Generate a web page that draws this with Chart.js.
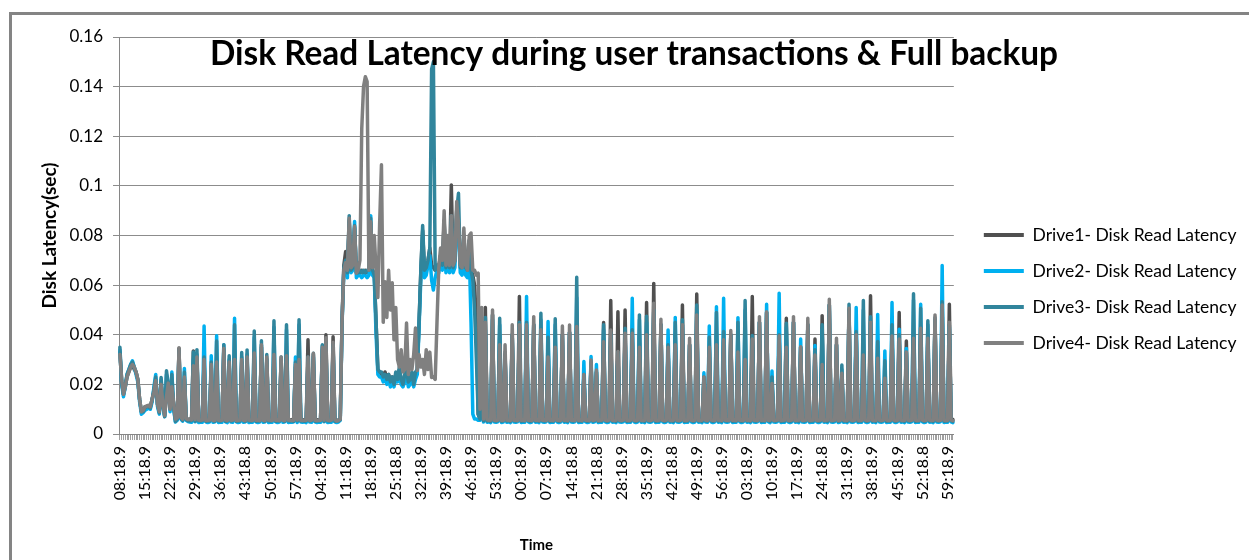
<!DOCTYPE html>
<html>
<head>
<meta charset="utf-8">
<title>Disk Read Latency</title>
<script src="https://cdn.jsdelivr.net/npm/chart.js@4.4.1/dist/chart.umd.min.js"></script>
<style>
  html, body { margin: 0; padding: 0; background: #fff; }
  #wrap { position: relative; width: 1249px; height: 560px; overflow: hidden; }
  #chart { position: absolute; left: 0; top: 0; }
  /* the grey frame of the original picture; its right and bottom edges are cut off */
  #frame { position: absolute; left: 9px; top: 12px; width: 1300px; height: 600px;
           border: 3px solid #848484; pointer-events: none; }
</style>
</head>
<body>
<div id="wrap">
  <canvas id="chart" width="1249" height="560"></canvas>
  <div id="frame"></div>
</div>
<script>
// ---------------------------------------------------------------------------
// Disk read latency of four drives, one sample every 30 s.
// ---------------------------------------------------------------------------

const TITLE = "Disk Read Latency during user transactions & Full backup";
const SERIES_NAMES = [
  "Drive1- Disk Read Latency",
  "Drive2- Disk Read Latency",
  "Drive3- Disk Read Latency",
  "Drive4- Disk Read Latency",
];
const COLORS = ["#505050", "#00b0f0", "#31859c", "#808080"];

// one label is printed every 14 samples (7 minutes)
const TICK_EVERY = 14;
const TICK_LABELS = [
  "08:18.9", "15:18.9", "22:18.9", "29:18.9", "36:18.9", "43:18.8", "50:18.9",
  "57:18.9", "04:18.9", "11:18.9", "18:18.9", "25:18.8", "32:18.9", "39:18.9",
  "46:18.9", "53:18.9", "00:18.9", "07:18.9", "14:18.8", "21:18.8", "28:18.9",
  "35:18.9", "42:18.8", "49:18.9", "56:18.9", "03:18.9", "10:18.9", "17:18.9",
  "24:18.8", "31:18.9", "38:18.9", "45:18.9", "52:18.8", "59:18.9",
];

// latency in seconds
const DRIVE1 = [
  .033,.021,.016,.019,.023,.025,.027,.028,.026,.025,
  .022,.014,.009,.0095,.011,.0112,.0115,.011,.014,.017,
  .022,.012,.009,.021,.012,.0075,.016,.020,.010,.019,
  .012,.006,.0066,.0345,.0068,.006,.022,.0062,.0058,.006,
  .0057,.0335,.0058,.030,.0057,.0056,.0058,.029,.0055,.0057,
  .0056,.027,.0058,.0055,.028,.0057,.0056,.0058,.034,.0055,
  .0057,.028,.0056,.0058,.029,.0055,.0057,.0056,.029,.0058,
  .0055,.030,.0057,.0056,.0058,.032,.0055,.0057,.0056,.035,
  .0058,.0055,.030,.0057,.0056,.0058,.031,.0055,.0057,.0056,
  .030,.0058,.0055,.031,.0057,.0056,.0058,.0055,.027,.0057,
  .029,.0056,.0058,.0055,.0057,.038,.0056,.0058,.032,.0055,
  .0057,.0056,.0058,.034,.0055,.040,.0057,.0056,.0058,.0392,
  .0058,.0055,.0057,.0062,.046,.068,.0735,.065,.086,.067,
  .068,.083,.065,.066,.065,.066,.065,.066,.065,.066,
  .085,.066,.065,.045,.026,.025,.024,.023,.025,.022,
  .024,.021,.023,.020,.024,.022,.026,.022,.020,.023,
  .026,.021,.022,.024,.020,.024,.026,.045,.066,.082,
  .066,.066,.070,.075,.068,.067,.066,.068,.067,.072,
  .068,.086,.068,.079,.068,.1004,.068,.070,.090,.085,
  .068,.067,.080,.068,.066,.078,.066,.064,.060,.045,
  .008,.006,.045,.0058,.051,.0057,.0056,.0058,.048,.0055,
  .0057,.0056,.040,.0058,.0055,.032,.0057,.0056,.0058,.040,
  .0055,.0057,.0056,.0554,.0058,.0055,.0057,.042,.0056,.0058,
  .0055,.044,.0057,.0056,.0058,.042,.0055,.0057,.0056,.035,
  .0058,.0055,.0057,.036,.0056,.0058,.0055,.040,.0057,.0056,
  .0058,.041,.0055,.0057,.0056,.045,.0058,.0055,.0057,.023,
  .0056,.0058,.0055,.028,.0057,.0056,.025,.0058,.0055,.0057,
  .0449,.0056,.0058,.0055,.0538,.0057,.0056,.0058,.0493,.0055,
  .0057,.0056,.050,.0058,.0055,.0057,.040,.0056,.0058,.0055,
  .040,.0057,.0056,.0058,.053,.0055,.0057,.0056,.0607,.0058,
  .0055,.0057,.044,.0056,.0058,.0055,.034,.0057,.0056,.0058,
  .040,.0055,.0057,.0056,.052,.0058,.0055,.0057,.036,.0056,
  .0058,.0055,.0564,.0057,.0056,.0058,.022,.0055,.0057,.035,
  .0056,.0058,.0055,.040,.0057,.0056,.0058,.038,.0055,.0057,
  .0056,.040,.0058,.0055,.0057,.034,.0056,.0058,.0055,.032,
  .0057,.0056,.0058,.0554,.0055,.0057,.0056,.045,.0058,.0055,
  .0057,.049,.0056,.0058,.021,.0055,.0057,.0056,.039,.0058,
  .0055,.0057,.0466,.0056,.0058,.0055,.045,.0057,.0056,.0058,
  .035,.0055,.0057,.0056,.044,.0058,.0055,.0057,.0383,.0056,
  .0058,.0055,.0477,.0057,.0056,.0058,.052,.0055,.0057,.0056,
  .036,.0058,.0055,.024,.0057,.0056,.0058,.050,.0055,.0057,
  .0056,.040,.0058,.0055,.0057,.032,.0056,.0058,.0055,.0557,
  .0057,.0056,.0058,.031,.0055,.0057,.0056,.023,.0058,.0055,
  .0057,.040,.0056,.0058,.0055,.049,.0057,.0056,.0058,.0375,
  .0055,.0057,.0056,.040,.0058,.0055,.0057,.043,.0056,.0058,
  .0055,.039,.0057,.0056,.0058,.046,.0055,.0057,.0056,.050,
  .0058,.0055,.0057,.0523,.0056,.0058,
];

const DRIVE2 = [
  .034,.020,.015,.019,.024,.026,.028,.0295,.027,.024,
  .021,.013,.008,.0086,.0095,.010,.0105,.010,.013,.019,
  .024,.011,.008,.022,.011,.007,.024,.020,.009,.025,
  .010,.0048,.0055,.033,.006,.0052,.0264,.0055,.005,.0048,
  .0047,.030,.0049,.032,.0046,.0048,.0047,.0435,.0049,.0046,
  .0048,.0315,.0047,.0049,.0396,.0046,.0048,.0047,.036,.0049,
  .0046,.030,.0048,.0047,.0466,.0049,.0046,.0048,.031,.0047,
  .0049,.032,.0046,.0048,.0047,.039,.0049,.0046,.0048,.036,
  .0047,.0049,.030,.0046,.0048,.0047,.043,.0049,.0046,.0048,
  .029,.0047,.0049,.042,.0046,.0048,.0047,.0049,.031,.0046,
  .044,.0048,.0047,.0049,.0046,.029,.0048,.0047,.031,.0049,
  .0046,.0048,.0047,.0355,.0049,.035,.0046,.0048,.0047,.035,
  .0049,.0046,.0048,.0055,.044,.066,.068,.063,.085,.065,
  .066,.0856,.063,.064,.064,.063,.064,.064,.063,.064,
  .088,.064,.063,.040,.024,.023,.023,.021,.023,.020,
  .022,.019,.021,.019,.022,.021,.024,.020,.019,.021,
  .024,.019,.020,.022,.019,.022,.024,.043,.063,.080,
  .063,.064,.068,.072,.062,.058,.063,.066,.065,.070,
  .066,.080,.065,.076,.065,.0856,.065,.067,.087,.083,
  .065,.064,.077,.064,.063,.074,.045,.008,.006,.006,
  .0055,.0055,.030,.0048,.042,.0047,.0049,.0046,.046,.0048,
  .0047,.0049,.044,.0046,.0048,.031,.0047,.0049,.0046,.040,
  .0048,.0047,.0049,.043,.0046,.0048,.0047,.0554,.0049,.0046,
  .0048,.044,.0047,.0049,.0046,.046,.0048,.0047,.0049,.0453,
  .0046,.0048,.0047,.044,.0049,.0046,.0048,.040,.0047,.0049,
  .0046,.041,.0048,.0047,.0049,.055,.0046,.0048,.0047,.0292,
  .0049,.0046,.0048,.0312,.0047,.0049,.028,.0046,.0048,.0047,
  .042,.0049,.0046,.0048,.040,.0047,.0049,.0046,.032,.0048,
  .0047,.0049,.040,.0046,.0048,.0047,.0547,.0049,.0046,.0048,
  .046,.0047,.0049,.0046,.045,.0048,.0047,.0049,.050,.0046,
  .0048,.0047,.044,.0049,.0046,.0048,.0419,.0047,.0049,.0046,
  .047,.0048,.0047,.0049,.044,.0046,.0048,.0047,.036,.0049,
  .0046,.0048,.050,.0047,.0049,.0046,.0247,.0048,.0047,.0435,
  .0049,.0046,.0048,.0513,.0047,.0049,.0046,.0547,.0048,.0047,
  .0049,.040,.0046,.0048,.0047,.0469,.0049,.0046,.0048,.050,
  .0047,.0049,.0046,.038,.0048,.0047,.0049,.045,.0046,.0048,
  .0047,.0523,.0049,.0046,.0254,.0048,.0047,.0049,.0567,.0046,
  .0048,.0047,.043,.0049,.0046,.0048,.045,.0047,.0049,.0046,
  .0383,.0048,.0047,.0049,.044,.0046,.0048,.0047,.0357,.0049,
  .0046,.0048,.042,.0047,.0049,.0046,.052,.0048,.0047,.0049,
  .036,.0046,.0048,.026,.0047,.0049,.0046,.050,.0048,.0047,
  .0049,.051,.0046,.0048,.0047,.050,.0049,.0046,.0048,.045,
  .0047,.0049,.0046,.0482,.0048,.0047,.0049,.0335,.0046,.0048,
  .0047,.053,.0049,.0046,.0048,.0422,.0047,.0049,.0046,.0345,
  .0048,.0047,.0049,.054,.0046,.0048,.0047,.0523,.0049,.0046,
  .0048,.044,.0047,.0049,.0046,.046,.0048,.0047,.0049,.0679,
  .0046,.0048,.0047,.043,.0049,.0046,
];

const DRIVE3 = [
  .035,.021,.016,.020,.024,.026,.028,.029,.027,.025,
  .022,.014,.009,.009,.0105,.011,.011,.0105,.014,.018,
  .023,.012,.0085,.0228,.012,.007,.0255,.020,.010,.024,
  .011,.005,.006,.034,.0065,.0055,.025,.0058,.0053,.0052,
  .0054,.033,.0051,.034,.0053,.0052,.0054,.031,.0051,.0053,
  .0052,.029,.0054,.0051,.0375,.0053,.0052,.0054,.036,.0051,
  .0053,.0315,.0052,.0054,.044,.0051,.0053,.0052,.0328,.0054,
  .0051,.0339,.0053,.0052,.0054,.0415,.0051,.0053,.0052,.0376,
  .0054,.0051,.032,.0053,.0052,.0054,.0456,.0051,.0053,.0052,
  .031,.0054,.0051,.044,.0053,.0052,.0054,.0051,.029,.0053,
  .046,.0052,.0054,.0051,.0053,.031,.0052,.0054,.0325,.0051,
  .0053,.0052,.0054,.036,.0051,.037,.0053,.0052,.0054,.036,
  .0051,.0053,.0052,.0058,.045,.067,.070,.065,.088,.066,
  .067,.084,.065,.065,.066,.065,.066,.065,.066,.066,
  .087,.066,.064,.045,.026,.025,.025,.023,.024,.022,
  .024,.021,.023,.020,.025,.022,.027,.022,.020,.024,
  .026,.021,.022,.025,.020,.025,.026,.045,.066,.084,
  .066,.067,.070,.075,.147,.150,.066,.068,.067,.072,
  .068,.085,.067,.078,.067,.088,.067,.070,.090,.097,
  .067,.067,.080,.067,.066,.078,.066,.062,.050,.030,
  .008,.006,.040,.0053,.047,.0052,.0054,.0051,.048,.0053,
  .0052,.0054,.0466,.0051,.0053,.033,.0052,.0054,.0051,.040,
  .0053,.0052,.0054,.045,.0051,.0053,.0052,.045,.0054,.0051,
  .0053,.044,.0052,.0054,.0051,.0487,.0053,.0052,.0054,.039,
  .0051,.0053,.0052,.0464,.0054,.0051,.0053,.040,.0052,.0054,
  .0051,.041,.0053,.0052,.0054,.0632,.0051,.0053,.0052,.024,
  .0054,.0051,.0053,.029,.0052,.0054,.025,.0051,.0053,.0052,
  .044,.0054,.0051,.0053,.041,.0052,.0054,.0051,.033,.0053,
  .0052,.0054,.0426,.0051,.0053,.0052,.042,.0054,.0051,.0053,
  .048,.0052,.0054,.0051,.0475,.0053,.0052,.0054,.050,.0051,
  .0053,.0052,.044,.0054,.0051,.0053,.036,.0052,.0054,.0051,
  .045,.0053,.0052,.0054,.046,.0051,.0053,.0052,.036,.0054,
  .0051,.0053,.052,.0052,.0054,.0051,.023,.0053,.0052,.039,
  .0054,.0051,.0053,.049,.0052,.0054,.0051,.0413,.0053,.0052,
  .0054,.040,.0051,.0053,.0052,.045,.0054,.0051,.0053,.0538,
  .0052,.0054,.0051,.0397,.0053,.0052,.0054,.045,.0051,.0053,
  .0052,.049,.0054,.0051,.023,.0053,.0052,.0054,.040,.0051,
  .0053,.0052,.0446,.0054,.0051,.0053,.045,.0052,.0054,.0051,
  .035,.0053,.0052,.0054,.044,.0051,.0053,.0052,.034,.0054,
  .0051,.0053,.044,.0052,.0054,.0051,.052,.0053,.0052,.0054,
  .036,.0051,.0053,.0278,.0052,.0054,.0051,.0523,.0053,.0052,
  .0054,.0413,.0051,.0053,.0052,.0538,.0054,.0051,.0053,.0473,
  .0052,.0054,.0051,.0373,.0053,.0052,.0054,.0295,.0051,.0053,
  .0052,.044,.0054,.0051,.0053,.040,.0052,.0054,.0051,.033,
  .0053,.0052,.0054,.0565,.0051,.0053,.0052,.0507,.0054,.0051,
  .0053,.0456,.0052,.0054,.0051,.047,.0053,.0052,.0054,.0533,
  .0051,.0053,.0052,.044,.0054,.0051,
];

const DRIVE4 = [
  .032,.022,.016,.019,.023,.025,.027,.028,.027,.025,
  .022,.014,.009,.0095,.011,.0112,.0115,.011,.014,.017,
  .0215,.012,.009,.020,.012,.0075,.015,.0205,.010,.019,
  .012,.006,.0065,.0348,.0068,.006,.023,.0062,.0058,.006,
  .0057,.0275,.0058,.031,.0056,.0055,.0056,.030,.0054,.0055,
  .0056,.028,.0054,.0055,.029,.0056,.0054,.0055,.0345,.0056,
  .0054,.029,.0055,.0056,.030,.0054,.0055,.0056,.030,.0055,
  .0054,.031,.0056,.0055,.0054,.0326,.0055,.0056,.0054,.036,
  .0055,.0054,.031,.0056,.0055,.0054,.032,.0055,.0056,.0054,
  .031,.0055,.0054,.0315,.0056,.0055,.0054,.0055,.028,.0056,
  .030,.0055,.0054,.0056,.0055,.031,.0054,.0056,.0325,.0055,
  .0054,.0056,.0055,.035,.0056,.0388,.0055,.0054,.0056,.037,
  .0058,.0052,.0055,.006,.045,.066,.069,.066,.087,.067,
  .068,.0836,.0648,.066,.070,.123,.140,.144,.142,.066,
  .0855,.067,.080,.066,.055,.085,.1085,.045,.0614,.047,
  .066,.050,.061,.038,.051,.030,.027,.034,.025,.026,
  .0447,.024,.030,.026,.032,.0427,.0256,.032,.027,.030,
  .024,.034,.026,.033,.0228,.023,.022,.045,.067,.075,
  .070,.090,.068,.080,.068,.088,.068,.070,.0937,.085,
  .068,.067,.083,.068,.066,.080,.081,.066,.066,.064,
  .0648,.010,.051,.006,.045,.0058,.0055,.0056,.050,.0055,
  .0054,.0056,.036,.0055,.0054,.036,.0056,.0055,.0054,.044,
  .0055,.0056,.0054,.044,.0055,.0056,.0054,.044,.0055,.0056,
  .0054,.0473,.0055,.0056,.0054,.042,.0055,.0056,.0054,.031,
  .0055,.0056,.0054,.035,.0055,.0056,.0054,.0435,.0055,.0056,
  .0054,.0439,.0055,.0056,.0054,.0433,.0055,.0056,.0054,.024,
  .0055,.0056,.0054,.0298,.0055,.0056,.0258,.0054,.0055,.0056,
  .0372,.0055,.0054,.0056,.0419,.0055,.0054,.0056,.0332,.0055,
  .0054,.0056,.0406,.0055,.0054,.0056,.0406,.0055,.0054,.0056,
  .035,.0055,.0054,.0056,.040,.0055,.0054,.0056,.0527,.0055,
  .0054,.0056,.0462,.0055,.0054,.0056,.035,.0055,.0054,.0056,
  .036,.0055,.0054,.0056,.044,.0055,.0054,.0056,.0386,.0055,
  .0054,.0056,.048,.0055,.0054,.0056,.023,.0055,.0054,.035,
  .0056,.0055,.0054,.036,.0056,.0055,.0054,.038,.0055,.0056,
  .0054,.0417,.0055,.0056,.0054,.033,.0055,.0056,.0054,.030,
  .0055,.0056,.0054,.0383,.0055,.0056,.0054,.0473,.0055,.0056,
  .0054,.0493,.0055,.0056,.0204,.0054,.0055,.0056,.0395,.0054,
  .0055,.0056,.035,.0054,.0055,.0056,.0473,.0054,.0055,.0056,
  .0352,.0054,.0055,.0056,.0466,.0054,.0055,.0056,.0318,.0054,
  .0055,.0056,.028,.0054,.0055,.0056,.0543,.0054,.0055,.0056,
  .0386,.0054,.0055,.0245,.0056,.0054,.0055,.0507,.0056,.0054,
  .0055,.040,.0056,.0054,.0055,.0318,.0056,.0054,.0055,.045,
  .0056,.0054,.0055,.0305,.0056,.0054,.0055,.0225,.0056,.0054,
  .0055,.0395,.0056,.0054,.0055,.0383,.0056,.0054,.0055,.033,
  .0056,.0054,.0055,.0386,.0056,.0054,.0055,.0426,.0056,.0054,
  .0055,.0386,.0056,.0054,.0055,.048,.0056,.0054,.0055,.052,
  .0056,.0054,.0055,.045,.0056,.0054,
];

const Y_MAX = 0.16;
const Y_STEP = 0.02;

// --- build the chart ---------------------------------------------------------

const FONT = "Lato, 'Open Sans', sans-serif";
const SERIES = [DRIVE1, DRIVE2, DRIVE3, DRIVE4];

const labels = DRIVE4.map((_, i) =>
  i % TICK_EVERY === 0 ? (TICK_LABELS[i / TICK_EVERY] || "") : "");

// Drive4 is drawn last (on top), Drive1 first.
const datasets = SERIES.map((data, k) => ({
  label: SERIES_NAMES[k],
  data,
  yAxisID: "y",
  borderColor: COLORS[k],
  backgroundColor: COLORS[k],
  borderWidth: 3.5,
  pointRadius: 0,
  tension: 0,
  borderJoinStyle: "round",
  borderCapStyle: "round",
  order: SERIES.length - k,
}));

// Title sits inside the plot area, as in the original.
const overlayTitle = {
  id: "overlayTitle",
  afterDatasetsDraw(chart) {
    const { ctx } = chart;
    ctx.save();
    ctx.font = `bold 33.4px ${FONT}`;
    ctx.fillStyle = "#000";
    ctx.textAlign = "center";
    ctx.textBaseline = "alphabetic";
    ctx.fillText(TITLE, 634, 65);
    ctx.restore();
  },
};

new Chart(document.getElementById("chart"), {
  type: "line",
  data: { labels, datasets },
  plugins: [overlayTitle],
  options: {
    responsive: false,
    animation: false,
    layout: { padding: { left: 0, top: 37, right: 2.5, bottom: 19 } },
    plugins: {
      title: { display: false },
      tooltip: { enabled: false },
      legend: {
        position: "right",
        maxWidth: 320,
        labels: {
          boxWidth: 40,
          boxHeight: 4,
          padding: 18.5,
          color: "#000",
          font: { family: FONT, size: 17.5 },
          sort: (a, b) => a.datasetIndex - b.datasetIndex,
          generateLabels: (chart) =>
            Chart.defaults.plugins.legend.labels.generateLabels(chart)
              .map((l) => ({ ...l, lineWidth: 0 })),
        },
      },
    },
    scales: {
      x: {
        type: "category",
        offset: true,
        grid: { display: true, drawOnChartArea: false, drawTicks: true,
                tickLength: 6, color: "#a0a0a0" },
        border: { display: true, color: "#868686", width: 1 },
        ticks: { autoSkip: false, maxRotation: 90, minRotation: 90, padding: 6,
                 color: "#000", font: { family: FONT, size: 16 } },
        title: { display: true, text: "Time", color: "#000",
                 font: { family: FONT, size: 15, weight: "bold" },
                 padding: { top: 0, bottom: -13 } },
        afterFit: (s) => { s.height = 107; },
      },
      y: {
        type: "linear",
        position: "left",
        min: 0,
        max: Y_MAX,
        ticks: { stepSize: Y_STEP, padding: 10, color: "#000",
                 font: { family: FONT, size: 17 },
                 callback: (v) => String(+v.toFixed(2)) },
        grid: { color: "#8c8c8c", tickLength: 6 },
        border: { display: true, color: "#868686" },
        title: { display: true, text: "Disk Latency(sec)", color: "#000",
                 font: { family: FONT, size: 19, weight: "bold" },
                 padding: { top: 38, bottom: 0 } },
        afterFit: (s) => { s.width = 119; },
      },
      // empty strip that keeps the legend a little away from the plot
      gap: {
        type: "linear",
        axis: "y",
        position: "right",
        ticks: { display: false },
        grid: { display: false },
        border: { display: false },
        afterFit: (s) => { s.width = 11.5; },
      },
    },
  },
});
</script>
</body>
</html>
